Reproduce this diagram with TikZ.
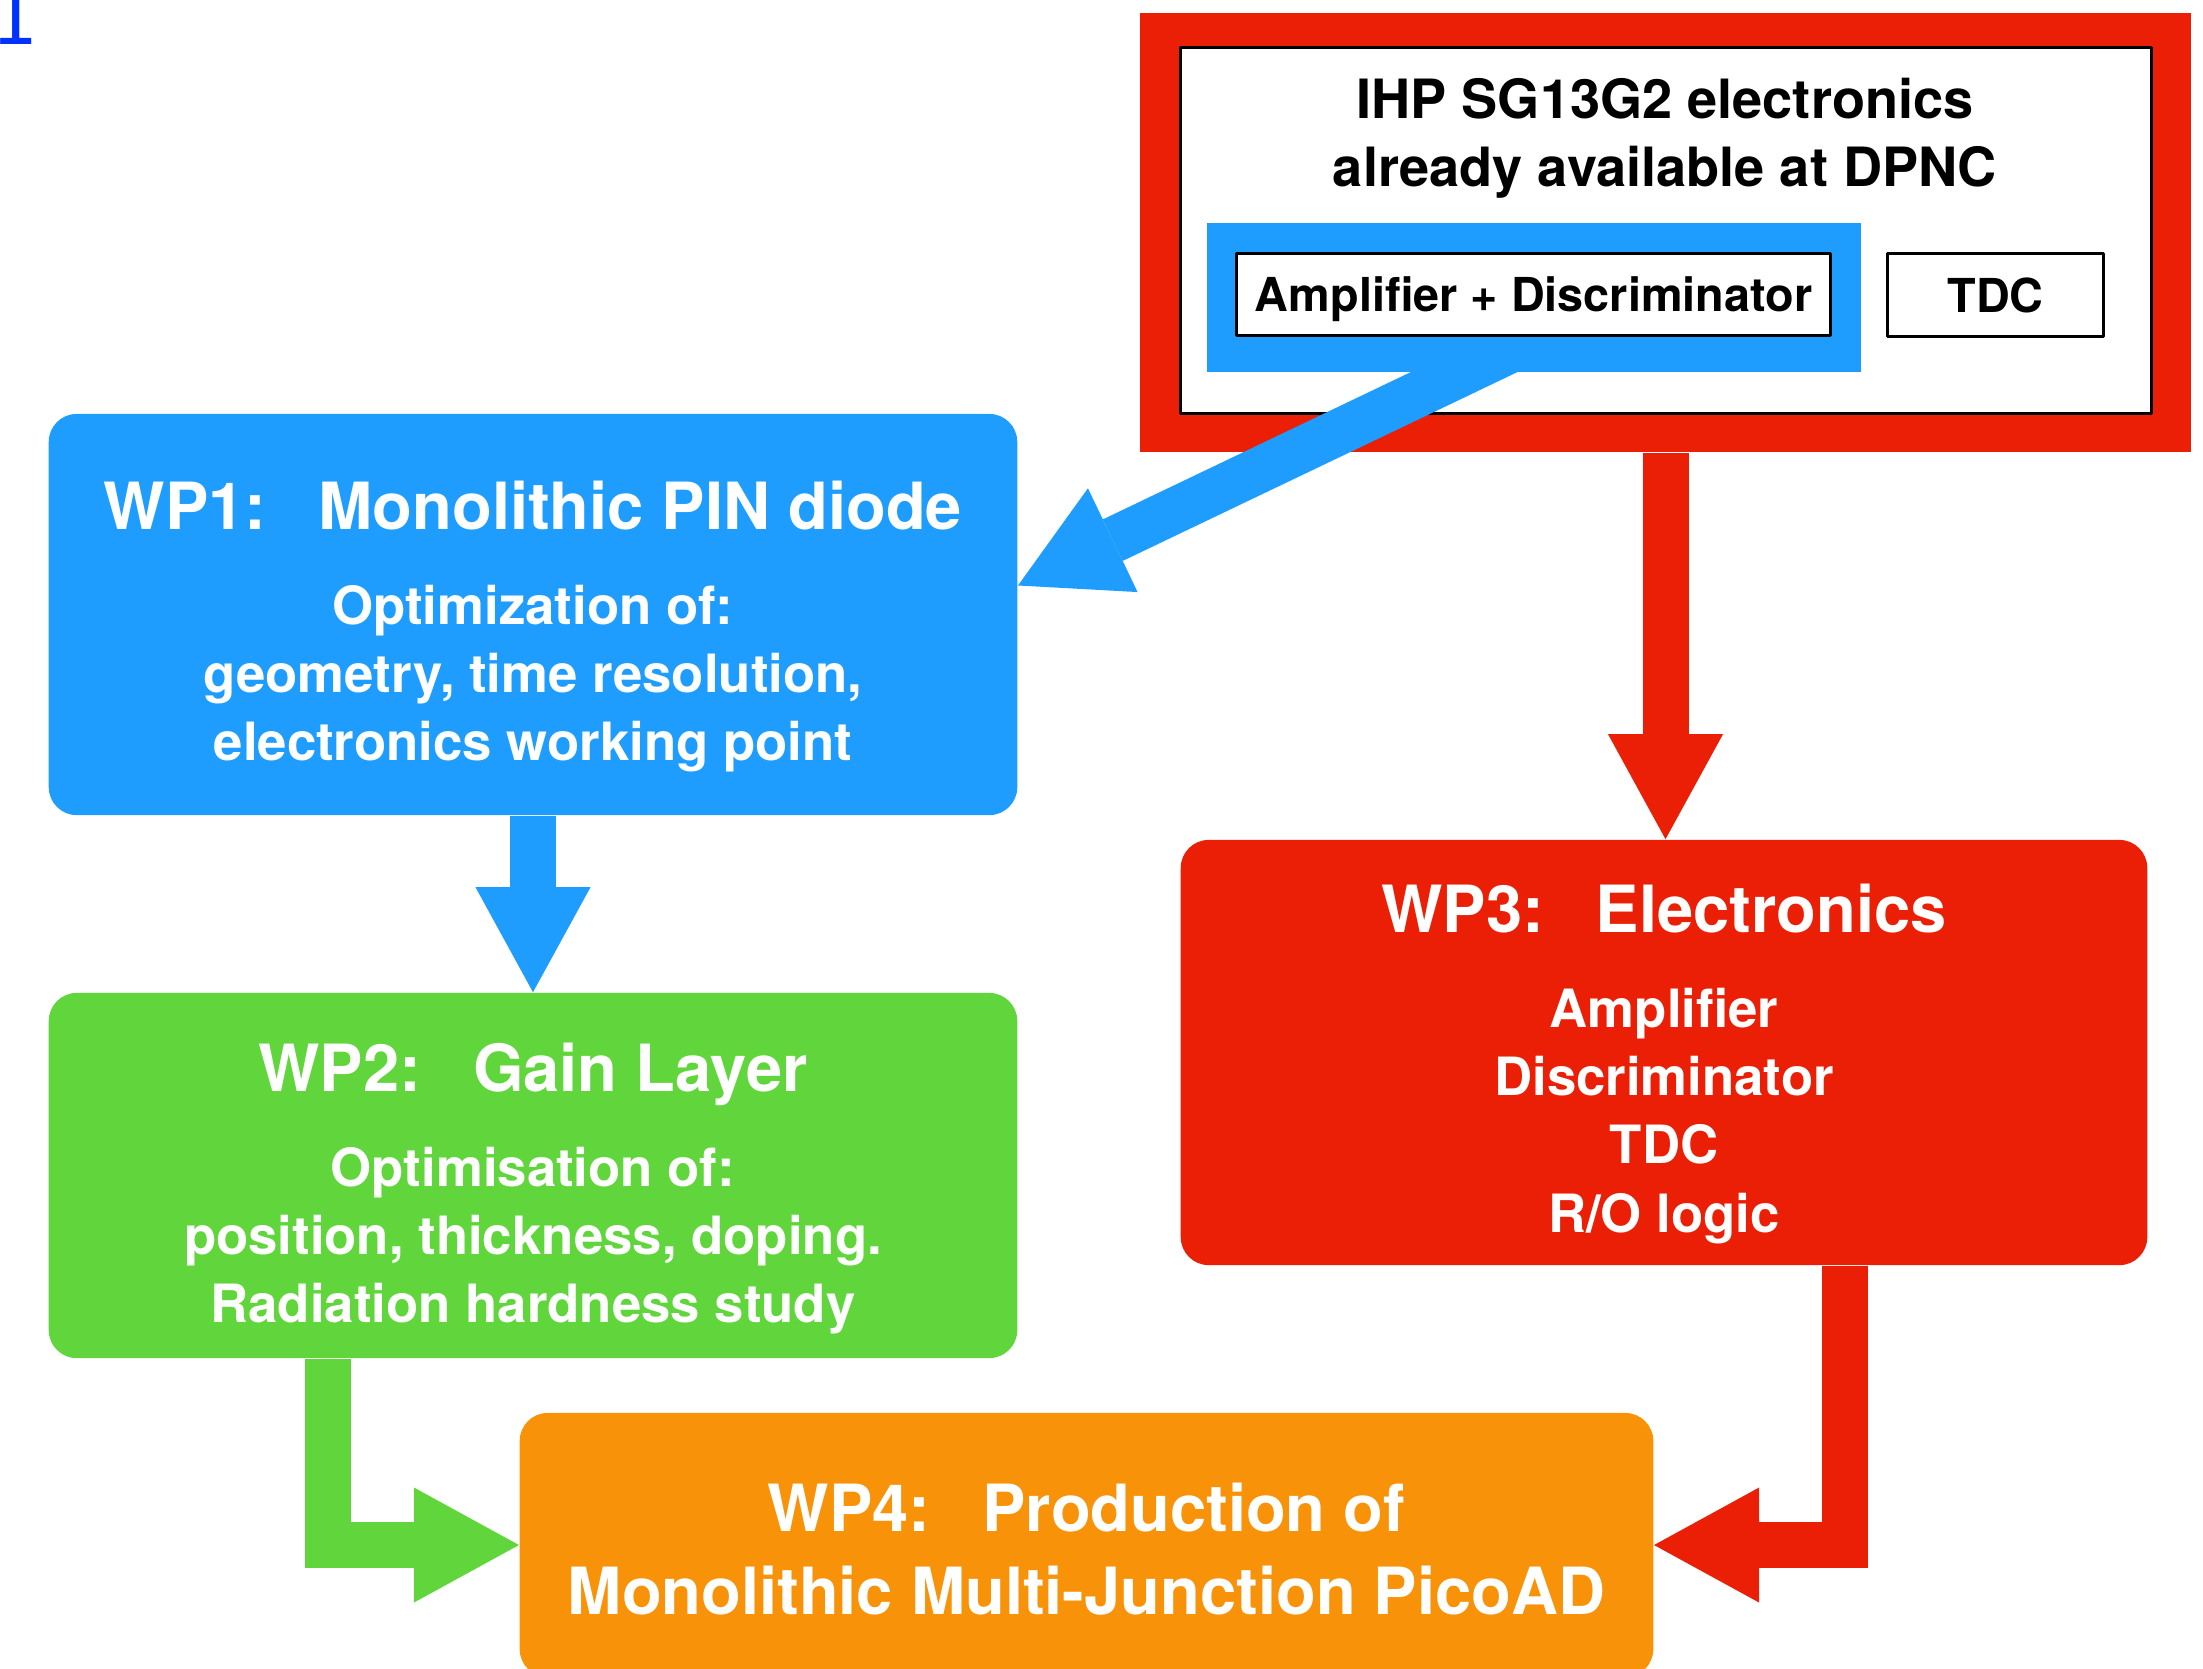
\documentclass[tikz,border=0pt]{standalone}
\usepackage{fontspec}
\setmainfont{TeX Gyre Heros}
\newfontfamily\markfont{DejaVu Sans}
\usepackage{tikz}
\definecolor{wpblue}{RGB}{30,157,255}
\definecolor{wpred}{RGB}{235,30,6}
\definecolor{wpgreen}{RGB}{96,214,60}
\definecolor{wporange}{RGB}{248,146,8}
\definecolor{linkblue}{RGB}{0,50,255}
\usetikzlibrary{arrows.meta}
\newcommand{\wphead}[1]{{\fontsize{18.5}{23.6}\selectfont #1}}

\begin{document}
\begin{tikzpicture}[x=0.01cm, y=-0.01cm, line cap=round, line join=round,
	wpbox/.style={rounded corners=0.28cm, inner sep=0pt},
	wptext/.style={text=white, font=\bfseries\fontsize{15}{19.4}\selectfont, align=center, inner sep=0pt, anchor=north},
	plainbox/.style={draw=black, line width=0.03cm, fill=white, inner sep=0pt},
	fatarrow/.style={line width=0.46cm, line cap=butt, line join=miter, -{Triangle[width=1.15cm, length=1.05cm, line width=0pt]}}]
	\useasboundingbox (0,0) rectangle (2203,1668);
	\clip (0,0) rectangle (2203,1668);
	\node[text=linkblue, font=\markfont\fontsize{21}{25}\selectfont, anchor=base west, inner sep=0pt] (fnmark) at (-9,44) {1};
	\node[wpbox, fill=wpblue, minimum width=9.68cm, minimum height=4.01cm] (wp1) at (533,614.5) {};
	\node[wptext] (wp1text) at (533,480) {\wphead{WP1:\hspace{0.52cm}Monolithic PIN diode}\\[0.27cm] Optimization of:\\ geometry, time resolution,\\ electronics working point};
	\node[wpbox, fill=wpgreen, minimum width=9.68cm, minimum height=3.65cm] (wp2) at (533,1175.5) {};
	\node[wptext] (wp2text) at (533,1042) {\wphead{WP2:\hspace{0.52cm}Gain Layer}\\[0.27cm] Optimisation of:\\ position, thickness, doping.\\ Radiation hardness study};
	\node[wpbox, fill=wpred, minimum width=9.66cm, minimum height=4.25cm] (wp3) at (1664,1052.5) {};
	\node[wptext] (wp3text) at (1664,883) {\wphead{WP3:\hspace{0.52cm}Electronics}\\[0.27cm] Amplifier\\ Discriminator\\ TDC\\ R/O logic};
	\node[wpbox, fill=wporange, minimum width=11.33cm, minimum height=2.64cm] (wp4) at (1086.5,1545) {};
	\node[wptext, font=\bfseries\fontsize{18.5}{23.6}\selectfont] (wp4text) at (1086.5,1482) {WP4:\hspace{0.52cm}Production of\\ Monolithic Multi-Junction PicoAD};
	\node[fill=wpred, minimum width=10.51cm, minimum height=4.39cm, inner sep=0pt] (redframe) at (1665.5,232.5) {};
	\node[plainbox, minimum width=9.70cm, minimum height=3.65cm] (whitebox) at (1666,230.5) {};
	\node[font=\bfseries\fontsize{15.4}{19.4}\selectfont, align=center, inner sep=0pt, anchor=north] (ihptext) at (1665,77) {IHP SG13G2 electronics\\ already available at DPNC};
	\coordinate (ampout) at (1621,297);
	\draw[fatarrow, wpblue] (ampout) -- ([yshift=0.29cm]wp1.east);
	\node[fill=wpblue, minimum width=6.54cm, minimum height=1.49cm, inner sep=0pt] (ampframe) at (1534,297.5) {};
	\node[plainbox, font=\bfseries\fontsize{13.3}{16}\selectfont, text depth=0pt, minimum width=5.93cm, minimum height=0.81cm] (amp) at (1533.5,294.5) {Amplifier + Discriminator};
	\node[plainbox, font=\bfseries\fontsize{13.3}{16}\selectfont, minimum width=2.15cm, minimum height=0.82cm] (tdc) at (1995.5,295) {TDC};
	\draw[fatarrow, wpred] (redframe.south) -- (redframe.south |- wp3.north);
	\draw[fatarrow, wpblue] (wp1.south) -- (wp2.north);
	\draw[fatarrow, wpgreen] ([xshift=-2.05cm]wp2.south) |- (wp4.west);
	\draw[fatarrow, wpred] ([xshift=1.81cm]wp3.south) |- (wp4.east);
\end{tikzpicture}
\end{document}
